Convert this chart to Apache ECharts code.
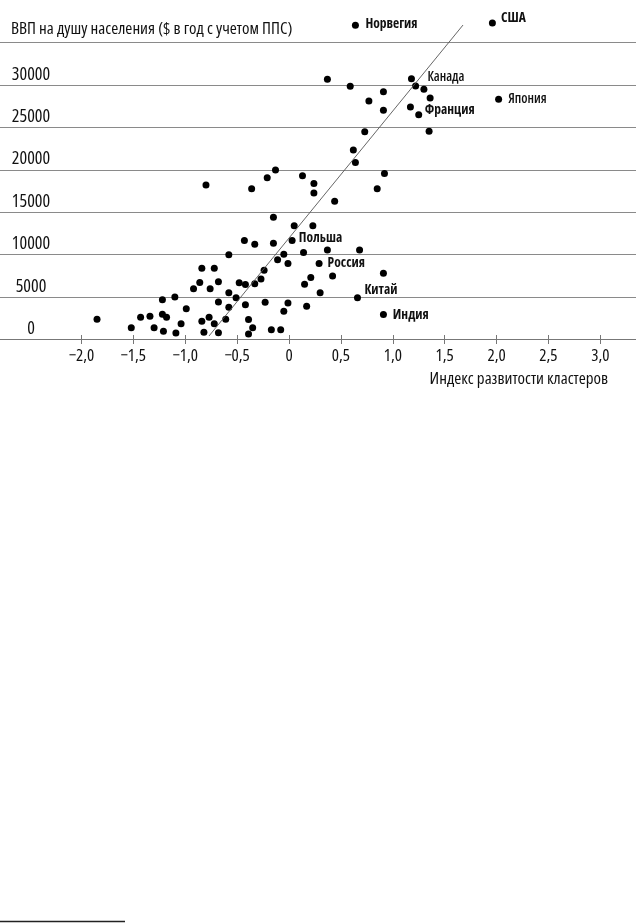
<!DOCTYPE html>
<html>
<head>
<meta charset="utf-8">
<script src="https://cdn.jsdelivr.net/npm/echarts@6/dist/echarts.min.js"></script>
<style>
html,body{margin:0;padding:0;background:#fff;}
#chart{width:636px;height:923px;}
</style>
</head>
<body>
<div id="chart"></div>
<script>
// Cluster development index (x) and GDP per capita, $ PPP (y)
var clusterIndex = [
  -1.85,-1.52,-1.43,-1.34,-1.30,-1.22,-1.22,-1.18,-1.21,-1.10,-1.09,-1.04,-0.99,-0.92,-0.86,-0.84,
  -0.84,-0.82,-0.77,-0.76,-0.72,-0.68,-0.68,-0.72,-0.68,-0.61,-0.58,-0.58,-0.58,-0.51,-0.48,-0.42,
  -0.42,-0.39,-0.35,-0.39,-0.33,-0.27,-0.24,-0.23,-0.17,-0.08,-0.05,-0.01,-0.11,-0.05,-0.01,0.14,
  0.29,0.21,0.15,0.42,0.30,0.17,0.91,0.66,0.91,0.37,0.68,
  -0.43,-0.33,-0.15,0.03,-0.15,0.05,0.23,-0.80,-0.36,-0.21,-0.13,0.13,0.24,0.24,0.44,0.64,0.92,0.85,0.62,
  0.64,1.96,0.37,0.59,1.18,1.22,1.30,0.91,1.36,0.77,2.02,0.91,1.17,1.25,0.73,1.35
];
var gdpPerCapita = [
  2380,1380,2630,2730,1380,2970,4690,2630,970,5010,770,1860,3630,5990,6720,8390,
  2150,850,2630,5990,8390,6810,4420,1860,790,2380,3800,5500,9980,4930,6680,6480,
  4100,2360,1380,650,6580,7130,8160,4400,1140,1140,3340,4300,9390,10050,8960,10250,
  8960,7310,6510,7480,5520,3920,7800,4930,2950,10550,10550,
  11670,11230,11340,11670,14400,13410,13410,18210,17760,19070,19980,19290,18380,17270,16290,20860,19560,17770,22330,
  37030,37300,30660,29840,30740,29880,29490,29200,28460,28110,28310,27010,27400,26490,24490,24540
];
var countryNames = [
  '','','','','','','','','','','','','','','','',
  '','','','','','','','','','','','','','','','',
  '','','','','','','','','','','','','','','','',
  'Россия','','','','','','','Китай','Индия','','',
  '','','','Польша','','','','','','','','','','','','','','','',
  'Норвегия','США','','','Канада','','','','','','Япония','','','Франция','',''
];
// Regression line end points
var trendX = [-0.771, 1.677];
var trendY = [410, 37060];
// Axis ticks
var xTicks = [-2.0,-1.5,-1.0,-0.5,0,0.5,1.0,1.5,2.0,2.5,3.0];
var yMin = 0, yMax = 35000, yStep = 5000;

var FAMILY = "'Open Sans','Roboto',sans-serif";
var STRETCH = 'condensed';
var TXT = '#111';
var labelTweaks = {
  'Норвегия': {offset:[1.5,-1], fontWeight:'bold'},
  'США': {offset:[0,-4.5], fontWeight:'bold'},
  'Канада': {offset:[7.5,-1.5], fontWeight:600},
  'Япония': {offset:[1.2,-0.6], fontWeight:600},
  'Франция': {offset:[-2.5,-4.7], fontWeight:'bold'},
  'Польша': {offset:[-1.8,-2.2], fontWeight:'bold'},
  'Россия': {offset:[0,0], fontWeight:'bold'},
  'Китай': {offset:[-1.5,-7.7], fontWeight:'bold'},
  'Индия': {offset:[0.9,0.2], fontWeight:'bold'}
};

var pts = clusterIndex.map(function(x,i){
  var d = {value:[x, gdpPerCapita[i]]};
  var nm = countryNames[i];
  if (nm) {
    var t = labelTweaks[nm];
    d.label = {show:true, formatter:nm, position:'right', distance:5, offset:t.offset,
      fontFamily:FAMILY, fontStyle:STRETCH, fontSize:13.5, fontWeight:t.fontWeight, color:TXT};
  }
  return d;
});

function fmtX(v){
  if (Math.abs(v) < 1e-9) return '0';
  var s = Math.abs(v).toFixed(1).replace('.', ',');
  return (v < 0 ? '\u2212' : '') + s;
}

var xMinV = -289/103.77, xMaxV = (636-289)/103.77;

var chart = echarts.init(document.getElementById('chart'), null, {renderer:'canvas'});
chart.setOption({
  backgroundColor:'#fff',
  animation:false,
  grid:{left:0, right:0, top:42.5, height:297, containLabel:false},
  xAxis:[{
    type:'value', position:'bottom', min:xMinV, max:xMaxV,
    splitLine:{show:false},
    axisLine:{show:true, lineStyle:{color:'#777', width:1}},
    axisTick:{show:true, inside:true, length:4.5, customValues:xTicks, lineStyle:{color:'#777'}},
    axisLabel:{show:true, customValues:xTicks, formatter:fmtX, margin:8,
      fontFamily:FAMILY, fontStyle:STRETCH, fontWeight:500, fontSize:17, color:TXT}
  },{
    type:'value', position:'bottom', min:xMinV, max:xMaxV,
    splitLine:{show:false},
    axisLine:{show:false},
    axisTick:{show:true, inside:false, length:4.5, customValues:xTicks, lineStyle:{color:'#777'}},
    axisLabel:{show:false}
  }],
  yAxis:{
    type:'value', min:yMin, max:yMax, interval:yStep,
    axisLine:{show:false}, axisTick:{show:false},
    splitLine:{show:true, lineStyle:{color:'#8a8a8a', width:1}},
    axisLabel:{inside:true, margin:31, align:'center', verticalAlign:'bottom', lineHeight:21,
      fontFamily:FAMILY, fontStyle:STRETCH, fontWeight:500, fontSize:18, color:TXT,
      formatter:function(v){ return v === yMax ? '' : String(v); }}
  },
  graphic:[
    {type:'text', x:11, y:29.5, style:{text:'ВВП на душу населения ($ в год с учетом ППС)',
      font:STRETCH + ' 500 17px ' + FAMILY, fill:TXT, align:'left', verticalAlign:'middle'}},
    {type:'text', x:608, y:379, style:{text:'Индекс развитости кластеров',
      font:STRETCH + ' 500 17px ' + FAMILY, fill:TXT, align:'right', verticalAlign:'middle'}},
    {type:'line', shape:{x1:0, y1:921.5, x2:125, y2:921.5}, style:{stroke:'#222', lineWidth:1.5}}
  ],
  series:[{
    type:'line', xAxisIndex:0,
    data: trendX.map(function(x,i){ return [x, trendY[i]]; }),
    showSymbol:false, symbol:'none', clip:false,
    lineStyle:{color:'#555', width:0.9}, silent:true
  },{
    type:'scatter', xAxisIndex:0, clip:false,
    symbol:'circle', symbolSize:7,
    itemStyle:{color:'#000', opacity:1},
    data: pts
  }]
});
</script>
</body>
</html>
